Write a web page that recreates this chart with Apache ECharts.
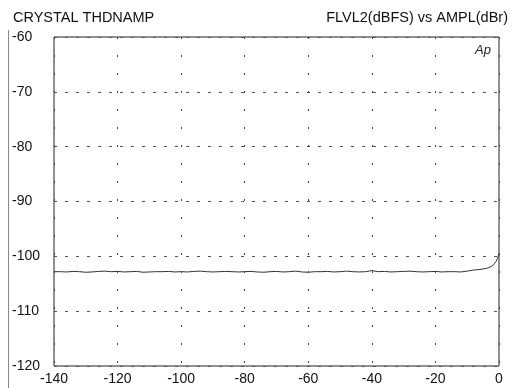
<!DOCTYPE html>
<html>
<head>
<meta charset="utf-8">
<script src="https://cdn.jsdelivr.net/npm/echarts@6/dist/echarts.min.js"></script>
<style>
  html, body { margin: 0; padding: 0; background: #fff; }
  #chart { width: 514px; height: 388px; }
</style>
</head>
<body>
<div id="chart"></div>
<script>
// 图表数据
var chartTitle = 'CRYSTAL THDNAMP';
var chartSubTitle = 'FLVL2(dBFS) vs AMPL(dBr)';
var xTicks = [-140, -120, -100, -80, -60, -40, -20, 0];
var yTicks = [-60, -70, -80, -90, -100, -110, -120];

// AMPL(dBr)
var amplData = [
    -140, -138, -136, -134, -132, -130, -128, -126, -124, -122,
    -120, -118, -116, -114, -112, -110, -108, -106, -104, -102,
    -100, -98, -96, -94, -92, -90, -88, -86, -84, -82,
    -80, -78, -76, -74, -72, -70, -68, -66, -64, -62,
    -60, -58, -56, -54, -52, -50, -48, -46, -44, -42,
    -40, -38, -36, -34, -32, -30, -28, -26, -24, -22,
    -20, -18, -16, -14, -12, -10, -8, -6, -5, -4,
    -3, -2, -1.5, -1, -0.5, 0
];
// FLVL2(dBFS)
var flvlData = [
    -102.8, -102.8, -102.85, -102.75, -102.8, -102.9, -102.85, -102.75, -102.7, -102.8,
    -102.75, -102.85, -102.8, -102.75, -102.9, -102.85, -102.8, -102.8, -102.75, -102.85,
    -102.8, -102.85, -102.75, -102.7, -102.8, -102.85, -102.8, -102.75, -102.8, -102.85,
    -102.8, -102.75, -102.85, -102.9, -102.8, -102.75, -102.85, -102.8, -102.7, -102.85,
    -102.9, -102.8, -102.8, -102.75, -102.85, -102.8, -102.7, -102.8, -102.85, -102.8,
    -102.6, -102.8, -102.75, -102.85, -102.8, -102.75, -102.7, -102.8, -102.85, -102.8,
    -102.75, -102.85, -102.8, -102.8, -102.85, -102.7, -102.5, -102.4, -102.3, -102.2,
    -102.0, -101.7, -101.4, -101.0, -100.4, -99.5
];

var renderChart = function() {
    var points = [];
    for (var i = 0, len = amplData.length; i < len; i++) {
        points.push([amplData[i], flvlData[i]]);
    }

    var echart = echarts.init(document.getElementById('chart'));
    var option = {
        backgroundColor: '#ffffff',
        animation: false,
        textStyle: {
            fontFamily: 'Liberation Sans, Arial, sans-serif',
            color: '#111'
        },
        title: [{
            text: chartTitle,
            left: 8,
            top: 5,
            textStyle: { fontSize: 14.5, fontWeight: 'normal', color: '#111' }
        }, {
            text: chartSubTitle,
            right: 1,
            top: 5,
            textStyle: { fontSize: 14.5, fontWeight: 'normal', color: '#111' }
        }, {
            text: 'Ap',
            right: 18,
            top: 39,
            textStyle: { fontSize: 13, fontWeight: 'normal', fontStyle: 'italic', color: '#222' }
        }],
        grid: {
            left: 54,
            right: 15,
            top: 37,
            bottom: 22,
            show: true,
            borderColor: '#222',
            borderWidth: 1
        },
        xAxis: {
            type: 'value',
            min: xTicks[0],
            max: xTicks[xTicks.length - 1],
            interval: 20,
            axisLine: { show: false },
            axisTick: { show: false },
            axisLabel: {
                color: '#111',
                fontSize: 14,
                margin: 6,
                showMinLabel: true,
                showMaxLabel: true
            },
            splitLine: {
                show: true,
                lineStyle: { color: '#444', width: 1, type: [2, 16] }
            }
        },
        yAxis: {
            type: 'value',
            min: yTicks[yTicks.length - 1],
            max: yTicks[0],
            interval: 10,
            axisLine: { show: false },
            axisTick: { show: false },
            axisLabel: {
                color: '#111',
                fontSize: 14,
                align: 'left',
                margin: 42
            },
            splitLine: {
                show: true,
                lineStyle: { color: '#555', width: 1, type: [3, 8] }
            }
        },
        series: [{
            type: 'line',
            data: points,
            showSymbol: false,
            smooth: false,
            lineStyle: { color: '#333', width: 1 }
        }],
        graphic: [{
            type: 'line',
            shape: { x1: 8.5, y1: 30, x2: 8.5, y2: 388 },
            style: { stroke: '#888', lineWidth: 1 }
        }]
    };
    echart.setOption(option);
};

renderChart();
</script>
</body>
</html>
